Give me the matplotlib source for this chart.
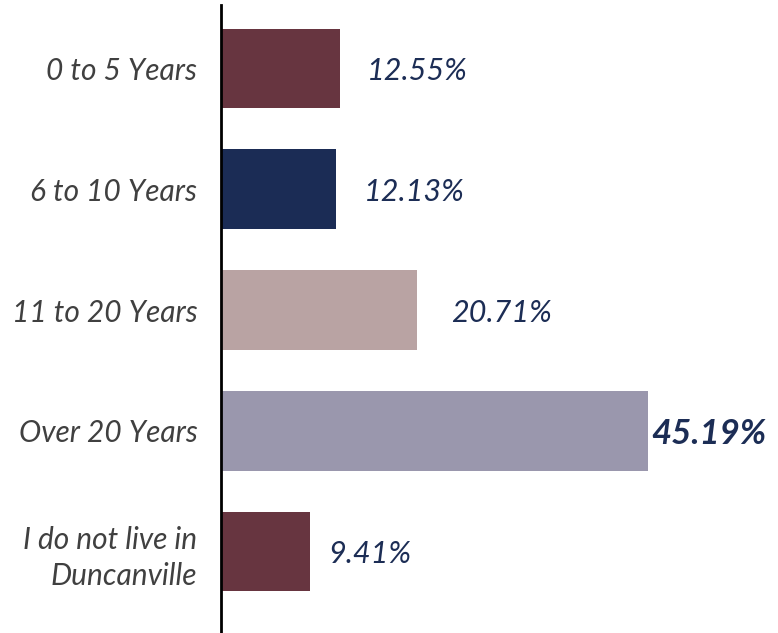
import matplotlib.pyplot as plt

categories = ["0 to 5 Years", "6 to 10 Years", "11 to 20 Years",
              "Over 20 Years", "I do not live in\nDuncanville"]
values = [12.55, 12.13, 20.71, 45.19, 9.41]
colors = ["#673540", "#1b2c55", "#b9a3a3", "#9a97ad", "#673540"]

# gap between bar end and its label (points), as placed in the original
label_gap = [20, 20, 25, 2, 13]

plt.rcParams['font.family'] = ['Lato', 'DejaVu Sans']

fig = plt.figure(figsize=(7.78, 6.33), dpi=100)
ax = fig.add_axes([221 / 778, 0, 549 / 778, 628 / 633])

pos = list(range(len(values)))
ax.barh(pos, values, height=0.66, color=colors)

ax.set_xlim(0, 58.1)
ax.set_ylim(4.675, -0.526)

for p, v, g in zip(pos, values, label_gap):
    bold = v == max(values)
    ax.annotate(f"{v:.2f}%", (v, p), xytext=(g, -2), textcoords="offset points",
                va="center", ha="left", fontsize=25 if bold else 22,
                style="italic", fontweight="bold" if bold else "normal",
                color="#1c2d55")

ax.set_yticks(pos)
ax.set_yticklabels(categories, fontsize=21.5, style="italic", color="#404040",
                   linespacing=1.35)
ax.tick_params(axis="y", length=0, pad=17)
ax.set_xticks([])

for s in ["top", "right", "bottom"]:
    ax.spines[s].set_visible(False)
ax.spines["left"].set_linewidth(2)
ax.spines["left"].set_color("black")

fig.savefig("out.png", dpi=100)
